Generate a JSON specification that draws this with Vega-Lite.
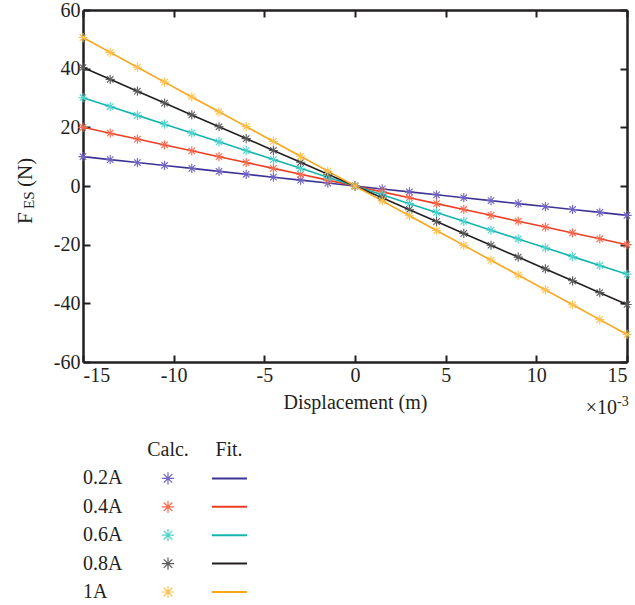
{
  "$schema": "https://vega.github.io/schema/vega-lite/v6.json",
  "padding": {"left": 15, "top": 0, "right": 5, "bottom": 5},
  "spacing": 22,
  "config": {
    "view": {"stroke": null},
    "font": "Liberation Serif",
    "axis": {
      "labelFont": "Liberation Serif", "labelFontSize": 20, "labelColor": "#231f20",
      "domainColor": "#231f20", "domainWidth": 2.5,
      "tickColor": "#231f20", "tickWidth": 2, "tickSize": -7,
      "grid": false,
      "labelExpr": "replace(datum.label, '−', '-')",
      "titleFont": "Liberation Serif", "titleFontSize": 20, "titleFontWeight": "normal", "titleColor": "#231f20"
    },
    "text": {"font": "Liberation Serif", "fontSize": 20, "color": "#231f20"}
  },
  "datasets": {
    "d": [
      {"s":"0.2A","x":-15,"F":10},{"s":"0.2A","x":-13.5,"F":9},{"s":"0.2A","x":-12,"F":8},{"s":"0.2A","x":-10.5,"F":7},{"s":"0.2A","x":-9,"F":6},{"s":"0.2A","x":-7.5,"F":5},{"s":"0.2A","x":-6,"F":4},{"s":"0.2A","x":-4.5,"F":3},{"s":"0.2A","x":-3,"F":2},{"s":"0.2A","x":-1.5,"F":1},{"s":"0.2A","x":0,"F":0},{"s":"0.2A","x":1.5,"F":-1},{"s":"0.2A","x":3,"F":-2},{"s":"0.2A","x":4.5,"F":-3},{"s":"0.2A","x":6,"F":-4},{"s":"0.2A","x":7.5,"F":-5},{"s":"0.2A","x":9,"F":-6},{"s":"0.2A","x":10.5,"F":-7},{"s":"0.2A","x":12,"F":-8},{"s":"0.2A","x":13.5,"F":-9},{"s":"0.2A","x":15,"F":-10},
      {"s":"0.4A","x":-15,"F":20},{"s":"0.4A","x":-13.5,"F":18},{"s":"0.4A","x":-12,"F":16},{"s":"0.4A","x":-10.5,"F":14},{"s":"0.4A","x":-9,"F":12},{"s":"0.4A","x":-7.5,"F":10},{"s":"0.4A","x":-6,"F":8},{"s":"0.4A","x":-4.5,"F":6},{"s":"0.4A","x":-3,"F":4},{"s":"0.4A","x":-1.5,"F":2},{"s":"0.4A","x":0,"F":0},{"s":"0.4A","x":1.5,"F":-2},{"s":"0.4A","x":3,"F":-4},{"s":"0.4A","x":4.5,"F":-6},{"s":"0.4A","x":6,"F":-8},{"s":"0.4A","x":7.5,"F":-10},{"s":"0.4A","x":9,"F":-12},{"s":"0.4A","x":10.5,"F":-14},{"s":"0.4A","x":12,"F":-16},{"s":"0.4A","x":13.5,"F":-18},{"s":"0.4A","x":15,"F":-20},
      {"s":"0.6A","x":-15,"F":30.1},{"s":"0.6A","x":-13.5,"F":27.09},{"s":"0.6A","x":-12,"F":24.08},{"s":"0.6A","x":-10.5,"F":21.07},{"s":"0.6A","x":-9,"F":18.06},{"s":"0.6A","x":-7.5,"F":15.05},{"s":"0.6A","x":-6,"F":12.04},{"s":"0.6A","x":-4.5,"F":9.03},{"s":"0.6A","x":-3,"F":6.02},{"s":"0.6A","x":-1.5,"F":3.01},{"s":"0.6A","x":0,"F":0},{"s":"0.6A","x":1.5,"F":-3.01},{"s":"0.6A","x":3,"F":-6.02},{"s":"0.6A","x":4.5,"F":-9.03},{"s":"0.6A","x":6,"F":-12.04},{"s":"0.6A","x":7.5,"F":-15.05},{"s":"0.6A","x":9,"F":-18.06},{"s":"0.6A","x":10.5,"F":-21.07},{"s":"0.6A","x":12,"F":-24.08},{"s":"0.6A","x":13.5,"F":-27.09},{"s":"0.6A","x":15,"F":-30.1},
      {"s":"0.8A","x":-15,"F":40.4},{"s":"0.8A","x":-13.5,"F":36.36},{"s":"0.8A","x":-12,"F":32.32},{"s":"0.8A","x":-10.5,"F":28.28},{"s":"0.8A","x":-9,"F":24.24},{"s":"0.8A","x":-7.5,"F":20.2},{"s":"0.8A","x":-6,"F":16.16},{"s":"0.8A","x":-4.5,"F":12.12},{"s":"0.8A","x":-3,"F":8.08},{"s":"0.8A","x":-1.5,"F":4.04},{"s":"0.8A","x":0,"F":0},{"s":"0.8A","x":1.5,"F":-4.04},{"s":"0.8A","x":3,"F":-8.08},{"s":"0.8A","x":4.5,"F":-12.12},{"s":"0.8A","x":6,"F":-16.16},{"s":"0.8A","x":7.5,"F":-20.2},{"s":"0.8A","x":9,"F":-24.24},{"s":"0.8A","x":10.5,"F":-28.28},{"s":"0.8A","x":12,"F":-32.32},{"s":"0.8A","x":13.5,"F":-36.36},{"s":"0.8A","x":15,"F":-40.4},
      {"s":"1A","x":-15,"F":50.6},{"s":"1A","x":-13.5,"F":45.54},{"s":"1A","x":-12,"F":40.48},{"s":"1A","x":-10.5,"F":35.42},{"s":"1A","x":-9,"F":30.36},{"s":"1A","x":-7.5,"F":25.3},{"s":"1A","x":-6,"F":20.24},{"s":"1A","x":-4.5,"F":15.18},{"s":"1A","x":-3,"F":10.12},{"s":"1A","x":-1.5,"F":5.06},{"s":"1A","x":0,"F":0},{"s":"1A","x":1.5,"F":-5.06},{"s":"1A","x":3,"F":-10.12},{"s":"1A","x":4.5,"F":-15.18},{"s":"1A","x":6,"F":-20.24},{"s":"1A","x":7.5,"F":-25.3},{"s":"1A","x":9,"F":-30.36},{"s":"1A","x":10.5,"F":-35.42},{"s":"1A","x":12,"F":-40.48},{"s":"1A","x":13.5,"F":-45.54},{"s":"1A","x":15,"F":-50.6}
    ]
  },
  "vconcat": [
    {
      "width": 544,
      "height": 352,
      "data": {"name": "d"},
      "layer": [
        {
          "mark": {"type": "line", "strokeWidth": 1.6},
          "encoding": {
            "x": {"field": "x", "type": "quantitative", "scale": {"domain": [-15, 15], "nice": false, "zero": false},
                  "axis": {"orient": "bottom", "values": [-15, -10, -5, 0, 5, 10, 15], "title": "Displacement (m)", "labelPadding": 10, "titlePadding": 7}},
            "y": {"field": "F", "type": "quantitative", "scale": {"domain": [-60, 60], "nice": false, "zero": false},
                  "axis": {"orient": "left", "values": [-60, -40, -20, 0, 20, 40, 60], "title": null, "labelPadding": 10}},
            "color": {"field": "s", "type": "nominal",
                      "scale": {"domain": ["0.2A", "0.4A", "0.6A", "0.8A", "1A"], "range": ["#3b3494", "#ec3e24", "#13b6ae", "#231f20", "#f9a51a"]},
                      "legend": null}
          }
        },
        {
          "mark": {"type": "point", "shape": "M-1,0H1M0,-1V1M-0.7,-0.7L0.7,0.7M-0.7,0.7L0.7,-0.7", "filled": false, "size": 85, "strokeWidth": 1.1, "opacity": 1},
          "encoding": {
            "x": {"field": "x", "type": "quantitative", "axis": {"orient": "top", "values": [-15, -10, -5, 0, 5, 10, 15], "labels": false, "title": null}},
            "y": {"field": "F", "type": "quantitative", "axis": {"orient": "right", "values": [-60, -40, -20, 0, 20, 40, 60], "labels": false, "title": null}},
            "stroke": {"field": "s", "type": "nominal",
                       "scale": {"domain": ["0.2A", "0.4A", "0.6A", "0.8A", "1A"], "range": ["#6e62c4", "#f66a4e", "#4fd3cb", "#5a5a5a", "#fcc150"]},
                       "legend": null}
          }
        },
        {
          "data": {"values": [{}]},
          "mark": {"type": "text", "text": "F", "angle": 270, "align": "left", "baseline": "alphabetic", "fontSize": 21},
          "encoding": {"x": {"datum": -15, "type": "quantitative", "axis": null}, "y": {"datum": 0, "type": "quantitative", "axis": null}, "xOffset": {"value": -51}, "yOffset": {"value": 38}}
        },
        {
          "data": {"values": [{}]},
          "mark": {"type": "text", "text": "ES", "angle": 270, "align": "left", "baseline": "alphabetic", "fontSize": 15},
          "encoding": {"x": {"datum": -15, "type": "quantitative", "axis": null}, "y": {"datum": 0, "type": "quantitative", "axis": null}, "xOffset": {"value": -49}, "yOffset": {"value": 23}}
        },
        {
          "data": {"values": [{}]},
          "mark": {"type": "text", "text": "(N)", "angle": 270, "align": "left", "baseline": "alphabetic", "fontSize": 21},
          "encoding": {"x": {"datum": -15, "type": "quantitative", "axis": null}, "y": {"datum": 0, "type": "quantitative", "axis": null}, "xOffset": {"value": -51}, "yOffset": {"value": 1}}
        },
        {
          "data": {"values": [{}]},
          "mark": {"type": "text", "text": "×10", "align": "right", "baseline": "alphabetic", "fontSize": 20},
          "encoding": {"x": {"datum": 15, "type": "quantitative", "axis": null}, "y": {"datum": -60, "type": "quantitative", "axis": null}, "xOffset": {"value": -10}, "yOffset": {"value": 52}}
        },
        {
          "data": {"values": [{}]},
          "mark": {"type": "text", "text": "-3", "align": "left", "baseline": "alphabetic", "fontSize": 14},
          "encoding": {"x": {"datum": 15, "type": "quantitative", "axis": null}, "y": {"datum": -60, "type": "quantitative", "axis": null}, "xOffset": {"value": -10}, "yOffset": {"value": 44}}
        }
      ],
      "resolve": {"axis": {"x": "independent", "y": "independent"}}
    },
    {
      "width": 200,
      "height": 142,
      "data": {"values": [{"s": "0.2A"}, {"s": "0.4A"}, {"s": "0.6A"}, {"s": "0.8A"}, {"s": "1A"}]},
      "encoding": {
        "y": {"field": "s", "type": "nominal", "scale": {"type": "point", "domain": ["hdr", "0.2A", "0.4A", "0.6A", "0.8A", "1A"], "padding": 0}, "axis": null}
      },
      "layer": [
        {
          "mark": {"type": "text", "align": "left", "baseline": "middle", "fontSize": 20},
          "encoding": {"x": {"value": 0}, "text": {"field": "s"}}
        },
        {
          "mark": {"type": "point", "shape": "M-1,0H1M0,-1V1M-0.7,-0.7L0.7,0.7M-0.7,0.7L0.7,-0.7", "filled": false, "size": 150, "strokeWidth": 1.2, "opacity": 1},
          "encoding": {
            "x": {"value": 85},
            "stroke": {"field": "s", "type": "nominal",
                       "scale": {"domain": ["0.2A", "0.4A", "0.6A", "0.8A", "1A"], "range": ["#6e62c4", "#f66a4e", "#4fd3cb", "#5a5a5a", "#fcc150"]},
                       "legend": null}
          }
        },
        {
          "mark": {"type": "rule", "strokeWidth": 2},
          "encoding": {
            "x": {"value": 129}, "x2": {"value": 164},
            "color": {"field": "s", "type": "nominal",
                      "scale": {"domain": ["0.2A", "0.4A", "0.6A", "0.8A", "1A"], "range": ["#3b3494", "#ec3e24", "#13b6ae", "#231f20", "#f9a51a"]},
                      "legend": null}
          }
        },
        {
          "data": {"values": [{}]},
          "mark": {"type": "text", "text": "Calc.", "align": "center", "baseline": "middle", "fontSize": 20},
          "encoding": {"x": {"value": 85}, "y": {"datum": "hdr", "type": "nominal"}}
        },
        {
          "data": {"values": [{}]},
          "mark": {"type": "text", "text": "Fit.", "align": "center", "baseline": "middle", "fontSize": 20},
          "encoding": {"x": {"value": 146}, "y": {"datum": "hdr", "type": "nominal"}}
        }
      ]
    }
  ]
}
